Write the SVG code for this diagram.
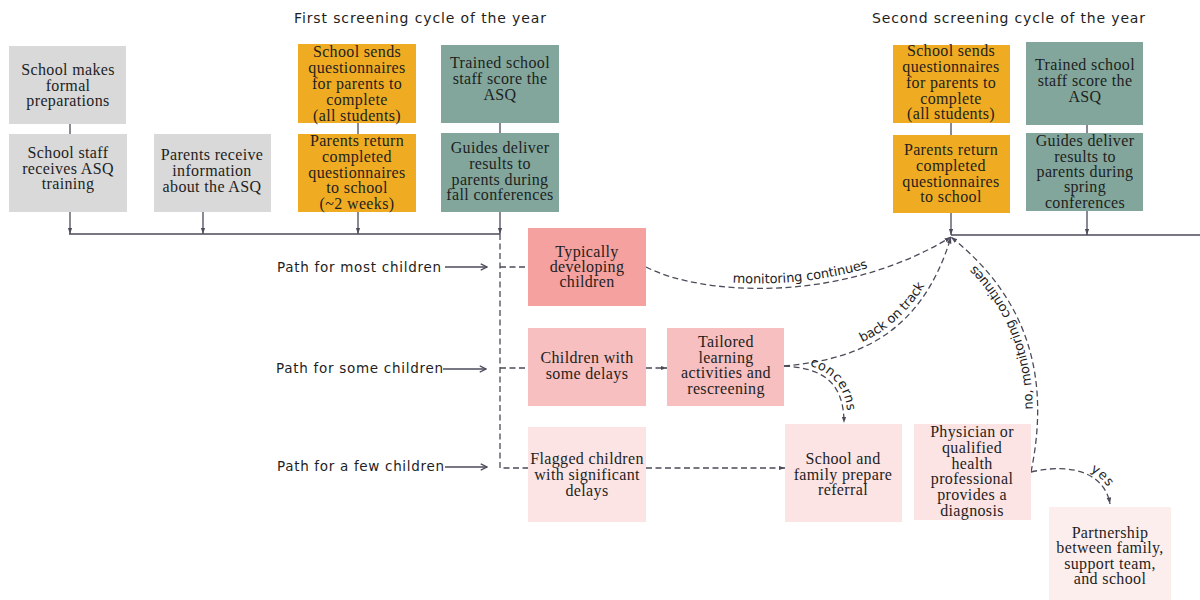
<svg xmlns="http://www.w3.org/2000/svg" width="1200" height="600" viewBox="0 0 1200 600">
<defs>
<style>
.bx{font-family:"Liberation Serif","Times New Roman",serif;font-size:16px;letter-spacing:0.35px;fill:#1e1e1e;text-anchor:middle}
.sans{font-family:"DejaVu Sans","Liberation Sans",sans-serif;fill:#1e1e1e}
.ttl{font-size:14px}
.pth{font-size:13.5px}
.lbl{font-size:13px}
.gray{fill:#d9d9d9}
.orng{fill:#efac23}
.teal{fill:#82a69b}
.p1{fill:#f5a19f}
.p2{fill:#f7bfbf}
.p3{fill:#fce4e4}
.p4{fill:#fdeeee}
.ln{fill:none;stroke:#4b4b5a;stroke-width:1.3}
.dash{stroke-dasharray:6 3.5}
</style>
<marker id="ah" viewBox="0 0 10 10" refX="10" refY="5" markerWidth="5" markerHeight="5" orient="auto">
<path d="M0,1.5 L10,5 L0,8.5z" fill="#4b4b5a"/>
</marker>
<marker id="oa" viewBox="0 0 10 10" refX="9" refY="5" markerWidth="6" markerHeight="6" orient="auto">
<path d="M1,1 L9,5 L1,9" fill="none" stroke="#4b4b5a" stroke-width="1.5"/>
</marker>
</defs>
<rect width="1200" height="600" fill="#ffffff"/>

<text class="sans ttl" x="294" y="23" textLength="252" lengthAdjust="spacing">First screening cycle of the year</text>
<text class="sans ttl" x="872" y="23" textLength="273" lengthAdjust="spacing">Second screening cycle of the year</text>

<g id="connectors">
<path class="ln" d="M70,124 V134"/>
<path class="ln" d="M358,123 V134"/>
<path class="ln" d="M500,123 V133"/>
<path class="ln" d="M951,123 V135"/>
<path class="ln" d="M1087,125 V133"/>
<path class="ln" d="M69,234 H500"/>
<path class="ln" marker-end="url(#ah)" d="M70,212 V234"/>
<path class="ln" marker-end="url(#ah)" d="M203,212 V234"/>
<path class="ln" marker-end="url(#ah)" d="M358,212 V234"/>
<path class="ln" marker-end="url(#ah)" d="M500,212 V234"/>
<path class="ln" d="M951,235 H1200"/>
<path class="ln" marker-end="url(#ah)" d="M951,213 V235"/>
<path class="ln" marker-end="url(#ah)" d="M1087,211 V235"/>
<path class="ln dash" d="M500,234 V468 H528"/>
<path class="ln dash" d="M500,267 H528"/>
<path class="ln dash" d="M500,368 H528"/>
<path class="ln" marker-end="url(#oa)" d="M445,267 H487"/>
<path class="ln" marker-end="url(#oa)" d="M443,369 H486"/>
<path class="ln" marker-end="url(#oa)" d="M445,467 H487"/>
<path class="ln dash" marker-end="url(#ah)" d="M646,368 H667"/>
<path class="ln dash" marker-end="url(#ah)" d="M646,468 H785"/>
<path id="c1" class="ln dash" marker-end="url(#ah)" d="M646,267 C700,295 840,305 951,237"/>
<path id="c2" class="ln dash" marker-end="url(#ah)" d="M784,366 C850,360 920,340 951,237"/>
<path id="c3" class="ln dash" marker-end="url(#ah)" d="M784,366 C820,368 844,380 844,423"/>
<path id="c4" class="ln dash" marker-end="url(#ah)" d="M1031,472 C1050,380 1030,300 951,237"/>
<path id="c5" class="ln dash" marker-end="url(#ah)" d="M1031,472 C1075,462 1105,475 1110,504"/>
<text class="sans lbl" dy="-5"><textPath href="#c1" startOffset="50%" text-anchor="middle">monitoring continues</textPath></text>
<text class="sans lbl" dy="-5"><textPath href="#c2" startOffset="56%" text-anchor="middle">back on track</textPath></text>
<text class="sans lbl" dy="-4"><textPath href="#c3" startOffset="57%" text-anchor="middle">concerns</textPath></text>
<text class="sans lbl" dy="-5"><textPath href="#c4" startOffset="55%" text-anchor="middle">no, monitoring continues</textPath></text>
<text class="sans lbl" dy="-4"><textPath href="#c5" startOffset="72%" text-anchor="middle">yes</textPath></text>
</g>

<g id="path-labels">
<text class="sans pth" x="277" y="272" textLength="164" lengthAdjust="spacing">Path for most children</text>
<text class="sans pth" x="276" y="373" textLength="167" lengthAdjust="spacing">Path for some children</text>
<text class="sans pth" x="277" y="471" textLength="167" lengthAdjust="spacing">Path for a few children</text>
</g>

<g id="n-prep"><rect class="gray" x="9" y="46" width="117" height="78"/>
<text class="bx"><tspan x="68" y="75">School makes</tspan><tspan x="68" y="91">formal</tspan><tspan x="68" y="106">preparations</tspan></text></g>

<g id="n-training"><rect class="gray" x="9" y="134" width="118" height="78"/>
<text class="bx"><tspan x="68" y="158">School staff</tspan><tspan x="68" y="174">receives ASQ</tspan><tspan x="68" y="189">training</tspan></text></g>

<g id="n-info"><rect class="gray" x="154" y="134" width="117" height="78"/>
<text class="bx"><tspan x="212" y="160">Parents receive</tspan><tspan x="212" y="176">information</tspan><tspan x="212" y="192">about the ASQ</tspan></text></g>

<g id="n-send1"><rect class="orng" x="298" y="44" width="118" height="79"/>
<text class="bx"><tspan x="357" y="57">School sends</tspan><tspan x="357" y="73">questionnaires</tspan><tspan x="357" y="89">for parents to</tspan><tspan x="357" y="105">complete</tspan><tspan x="357" y="121">(all students)</tspan></text></g>

<g id="n-return1"><rect class="orng" x="298" y="134" width="118" height="78"/>
<text class="bx"><tspan x="357" y="146">Parents return</tspan><tspan x="357" y="162">completed</tspan><tspan x="357" y="178">questionnaires</tspan><tspan x="357" y="193">to school</tspan><tspan x="357" y="209">(~2 weeks)</tspan></text></g>

<g id="n-score1"><rect class="teal" x="441" y="45" width="118" height="78"/>
<text class="bx"><tspan x="500" y="68">Trained school</tspan><tspan x="500" y="84">staff score the</tspan><tspan x="500" y="100">ASQ</tspan></text></g>

<g id="n-deliver1"><rect class="teal" x="441" y="133" width="118" height="79"/>
<text class="bx"><tspan x="500" y="153">Guides deliver</tspan><tspan x="500" y="169">results to</tspan><tspan x="500" y="185">parents during</tspan><tspan x="500" y="200">fall conferences</tspan></text></g>

<g id="n-send2"><rect class="orng" x="893" y="45" width="117" height="78"/>
<text class="bx"><tspan x="951" y="56">School sends</tspan><tspan x="951" y="72">questionnaires</tspan><tspan x="951" y="88">for parents to</tspan><tspan x="951" y="104">complete</tspan><tspan x="951" y="119">(all students)</tspan></text></g>

<g id="n-return2"><rect class="orng" x="893" y="135" width="117" height="78"/>
<text class="bx"><tspan x="951" y="155">Parents return</tspan><tspan x="951" y="171">completed</tspan><tspan x="951" y="187">questionnaires</tspan><tspan x="951" y="202">to school</tspan></text></g>

<g id="n-score2"><rect class="teal" x="1026" y="42" width="117" height="83"/>
<text class="bx"><tspan x="1085" y="70">Trained school</tspan><tspan x="1085" y="86">staff score the</tspan><tspan x="1085" y="102">ASQ</tspan></text></g>

<g id="n-deliver2"><rect class="teal" x="1026" y="133" width="117" height="78"/>
<text class="bx"><tspan x="1085" y="146">Guides deliver</tspan><tspan x="1085" y="162">results to</tspan><tspan x="1085" y="177">parents during</tspan><tspan x="1085" y="192">spring</tspan><tspan x="1085" y="208">conferences</tspan></text></g>

<g id="n-typical"><rect class="p1" x="528" y="228" width="118" height="78"/>
<text class="bx"><tspan x="587" y="257">Typically</tspan><tspan x="587" y="272">developing</tspan><tspan x="587" y="287">children</tspan></text></g>

<g id="n-some"><rect class="p2" x="528" y="328" width="118" height="78"/>
<text class="bx"><tspan x="587" y="363">Children with</tspan><tspan x="587" y="379">some delays</tspan></text></g>

<g id="n-tailored"><rect class="p2" x="667" y="328" width="117" height="78"/>
<text class="bx"><tspan x="726" y="347">Tailored</tspan><tspan x="726" y="363">learning</tspan><tspan x="726" y="378">activities and</tspan><tspan x="726" y="394">rescreening</tspan></text></g>

<g id="n-flagged"><rect class="p3" x="528" y="427" width="118" height="95"/>
<text class="bx"><tspan x="587" y="464">Flagged children</tspan><tspan x="587" y="480">with significant</tspan><tspan x="587" y="496">delays</tspan></text></g>

<g id="n-referral"><rect class="p3" x="785" y="424" width="117" height="98"/>
<text class="bx"><tspan x="843" y="464">School and</tspan><tspan x="843" y="480">family prepare</tspan><tspan x="843" y="495">referral</tspan></text></g>

<g id="n-diagnosis"><rect class="p3" x="914" y="424" width="117" height="96"/>
<text class="bx"><tspan x="972" y="437">Physician or</tspan><tspan x="972" y="453">qualified</tspan><tspan x="972" y="469">health</tspan><tspan x="972" y="484">professional</tspan><tspan x="972" y="500">provides a</tspan><tspan x="972" y="516">diagnosis</tspan></text></g>

<g id="n-partnership"><rect class="p4" x="1049" y="507" width="122" height="93"/>
<text class="bx"><tspan x="1110" y="538">Partnership</tspan><tspan x="1110" y="553">between family,</tspan><tspan x="1110" y="569">support team,</tspan><tspan x="1110" y="584">and school</tspan></text></g>
</svg>
